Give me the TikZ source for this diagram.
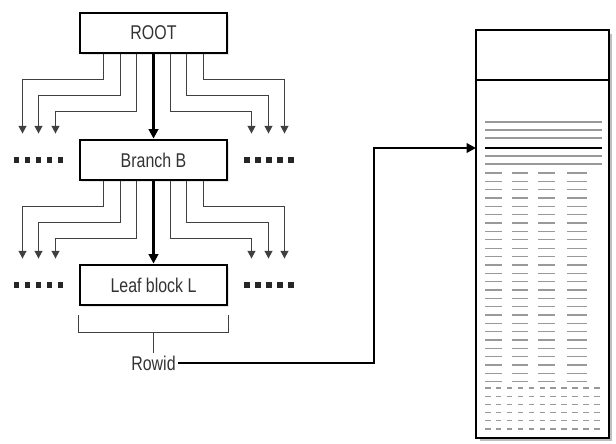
\documentclass[tikz,border=0pt]{standalone}
\usepackage{fontspec}
\setmainfont{Liberation Sans}[FakeStretch=0.8]
\usetikzlibrary{arrows.meta,calc,shadows}

\tikzset{
  block/.style={draw, line width=2.4pt, fill=white, minimum width=4.41cm,
    minimum height=1.2cm, font=\fontsize{17}{20}\selectfont, text=black!80,
    drop shadow={opacity=0.2, shadow xshift=2pt, shadow yshift=-2pt}},
  link/.style={black!75, line width=1.3pt},
  main/.style={line width=2.3pt, -{Triangle[length=8pt,width=8pt]}},
  dots/.style={fill=black!85},
  rowline/.style={black!40, line width=1.1pt},
}

\begin{document}
\begin{tikzpicture}[x=0.03cm, y=-0.03cm, >={Triangle[length=6.5pt,width=6.5pt]}]
  \useasboundingbox (0,0) rectangle (616,443);

  % index blocks
  \node[block] (root) at (153.5,33) {ROOT};
  \node[block] (branch) at (153.5,160) {Branch B};
  \node[block] (leaf) at (153.5,285) {Leaf block L};

  \draw[main] (root) -- (branch);
  \draw[main] (branch) -- (leaf);

  % fan-out to the other blocks
  \foreach \a/\b in {root/branch, branch/leaf}
    \foreach \s in {-1,1}
      \foreach \dx/\dy/\ex in {50/25/131, 33/41/115, 17/57/98}
        \draw[link,->] ($(\a.south)+(\s*\dx,0)$) -- ++(0,\dy)
          -| ($(\b.north)+(\s*\ex,-5)$);

  % "....." beside the blocks
  \foreach \n in {branch, leaf}
    \foreach \i in {0,...,4} {
      \fill[dots] ($(\n.west)+(-65+11*\i,2.5)$) rectangle ++(5.5,-5.5);
      \fill[dots] ($(\n.east)+(16+11*\i,2.5)$) rectangle ++(5.5,-5.5);
    }

  % bracket under the leaf
  \draw[link] ($(leaf.south west)+(0,9)$) -- ++(0,17)
    -- ($(leaf.south east)+(0,26)$) -- ++(0,-17);
  \node[font=\fontsize{17}{20}\selectfont, text=black!80, inner sep=2pt] (rowid) at (153.5,363) {Rowid};
  \draw[link] ($(leaf.south)+(0,26)$) -- (rowid.north);

  % table
  \fill[black!25] (480,34) rectangle (612,441);
  \draw[line width=2.4pt, fill=white] (476,30) rectangle (609,438);
  \draw[line width=2pt] (476,80) -- (609,80);
  \coordinate (target) at (476,148);
  \coordinate (turn) at (374,148);

  \foreach \y in {122,130,138,156,164}
    \draw[rowline] (485,\y) -- (602,\y);
  \draw[line width=1.8pt] (485,148) -- (602,148);

  \foreach \k in {0,...,25}
    \foreach \xa/\xb in {485/502, 512/528, 538/555, 567/587}
      \draw[rowline] (\xa,173+8.35*\k) -- (\xb,173+8.35*\k);

  \foreach \k in {0,...,5}
    \foreach \j in {0,...,10}
      \draw[rowline] (485+10.9*\j,388+8.2*\k) -- ++(5.5,0);

  % rowid pointer
  \draw[main] (rowid.east) -| (turn) -- (target);
\end{tikzpicture}
\end{document}
